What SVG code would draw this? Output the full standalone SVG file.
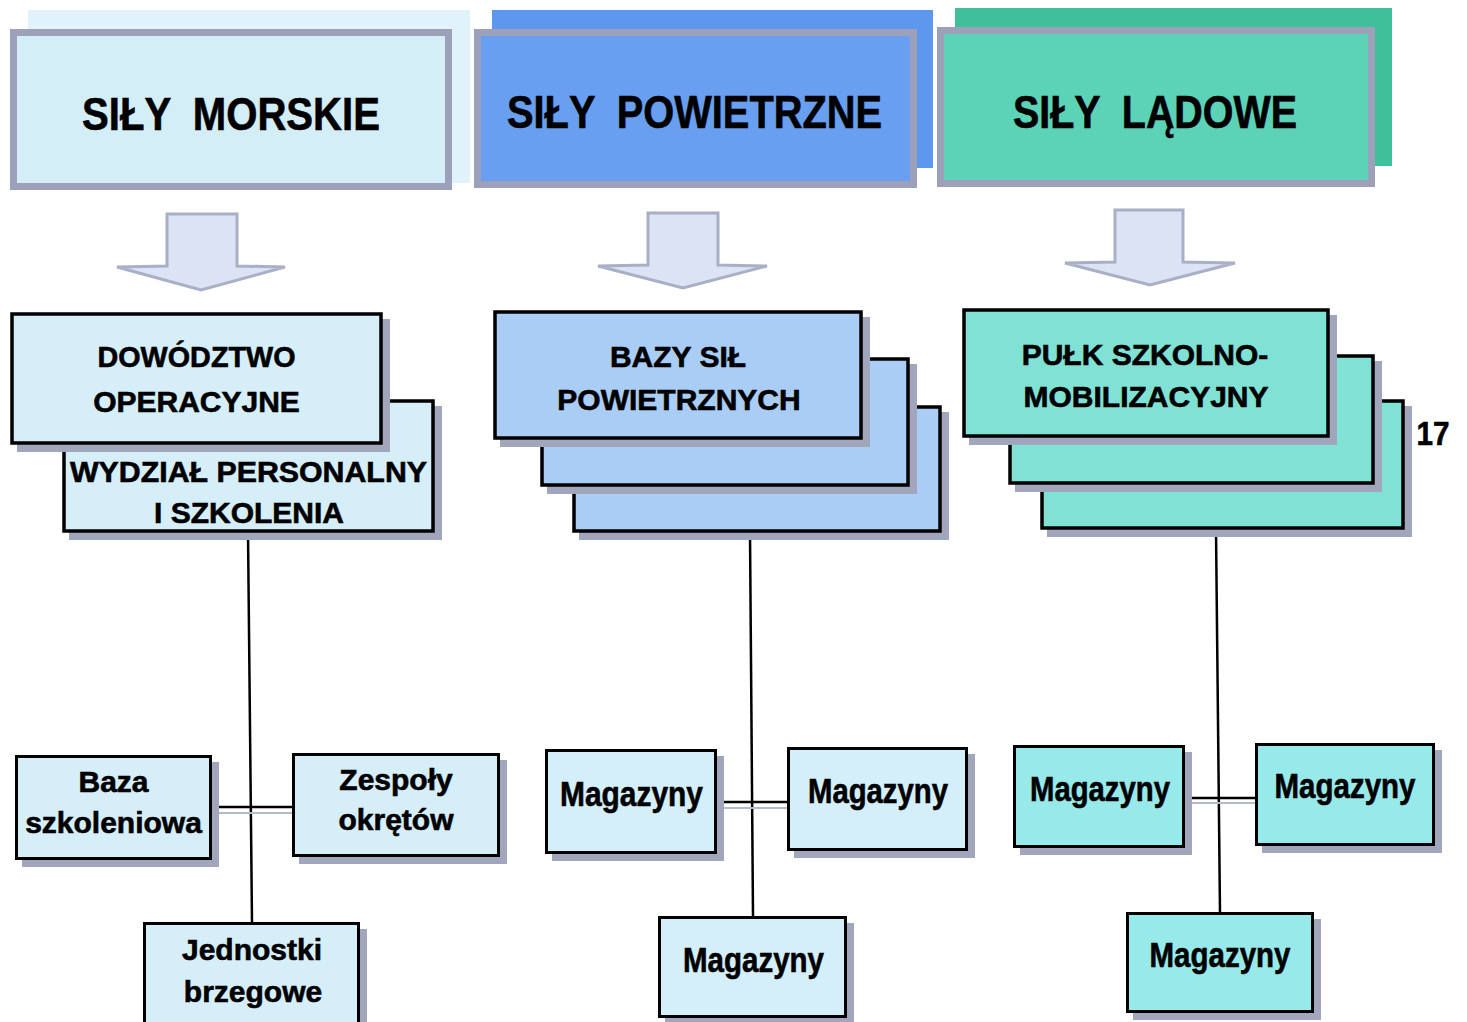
<svg xmlns="http://www.w3.org/2000/svg" width="1467" height="1022" viewBox="0 0 1467 1022">
<style>
text{font-family:"Liberation Sans",Arial,sans-serif;font-weight:bold;fill:#000;text-anchor:middle;stroke:#000;stroke-width:0.6}
.title{font-size:46px;white-space:pre}
.t2{font-size:30px}
.t3{font-size:30px}
.mag{font-size:35px}
.tb{stroke:#9ca1b9;stroke-width:7}
.bx{stroke:#000;stroke-width:3.5}
.bx3{stroke:#000;stroke-width:3}
.sh{fill:#a2a6bd}
.arrow{fill:#dce3f4;stroke:#a9b0c6;stroke-width:3;stroke-linejoin:miter}
.ln{stroke:#000;stroke-width:2.5;fill:none}
.lg{stroke:#b4bccb;stroke-width:2;fill:none}
.m2{fill:#d5eef8}
.p2{fill:#a9cdf4}
.l2{fill:#80e2d4}
.p3{fill:#d4effa}
.l3{fill:#97e9ea}
</style>
<rect width="1467" height="1022" fill="#fff"/>

<g id="top-morskie">
<rect x="28" y="10" width="442" height="173" fill="#e0f3fa"/>
<rect x="13.5" y="32.5" width="435" height="154" fill="#d4eef8" class="tb"/>
<text class="title" x="231" y="130" textLength="298" lengthAdjust="spacingAndGlyphs" xml:space="preserve">SIŁY  MORSKIE</text>
</g>
<g id="top-powietrzne">
<rect x="492" y="10" width="441" height="158" fill="#5e97ee"/>
<rect x="477.5" y="32.5" width="436" height="152" fill="#699ff1" class="tb"/>
<text class="title" x="694.5" y="128" textLength="375" lengthAdjust="spacingAndGlyphs" xml:space="preserve">SIŁY  POWIETRZNE</text>
</g>
<g id="top-ladowe">
<rect x="955" y="8" width="437" height="158" fill="#3fbf9a"/>
<rect x="940.5" y="30.5" width="431" height="153" fill="#5cd3b7" class="tb"/>
<text class="title" x="1155" y="128" textLength="284" lengthAdjust="spacingAndGlyphs" xml:space="preserve">SIŁY  LĄDOWE</text>
</g>

<g id="arrows">
<polygon class="arrow" points="167,214 237,214 237,266 285,267 201,290 117,267 167,266"/>
<polygon class="arrow" points="648,213 718,213 718,265 767,266 683,288 598,266 648,265"/>
<polygon class="arrow" points="1115,210 1183,210 1183,262 1235,263 1150,285 1065,263 1115,262"/>
</g>

<g id="connectors">
<line class="ln" x1="248" y1="533" x2="252" y2="922"/>
<line class="ln" x1="212" y1="807" x2="292" y2="807"/>
<line class="lg" x1="215" y1="813" x2="300" y2="813"/>
<line class="ln" x1="750" y1="533" x2="753" y2="916"/>
<line class="ln" x1="717" y1="802" x2="787" y2="802"/>
<line class="lg" x1="720" y1="808" x2="795" y2="808"/>
<line class="ln" x1="1216" y1="530" x2="1220" y2="912"/>
<line class="ln" x1="1185" y1="798" x2="1255" y2="798"/>
<line class="lg" x1="1188" y1="803" x2="1262" y2="803"/>
</g>

<g id="wydzial">
<rect class="sh" x="69" y="406" width="373" height="134"/>
<rect class="m2 bx" x="64" y="401" width="369" height="130"/>
<text class="t2" x="248.5" y="482" textLength="357" lengthAdjust="spacingAndGlyphs">WYDZIAŁ PERSONALNY</text>
<text class="t2" x="249" y="523">I SZKOLENIA</text>
</g>
<g id="dowodztwo">
<rect class="sh" x="17" y="319" width="373" height="133"/>
<rect class="m2 bx" x="12" y="314" width="369" height="129"/>
<text class="t2" x="196.5" y="367" textLength="198" lengthAdjust="spacingAndGlyphs">DOWÓDZTWO</text>
<text class="t2" x="196.5" y="412">OPERACYJNE</text>
</g>

<g id="bazy-stack">
<rect class="sh" x="579" y="412" width="370" height="128"/>
<rect class="p2 bx" x="574" y="407" width="366" height="124"/>
<rect class="sh" x="547" y="364" width="370" height="130"/>
<rect class="p2 bx" x="542" y="359" width="366" height="126"/>
<rect class="sh" x="500" y="317" width="370" height="130"/>
<rect class="p2 bx" x="495" y="312" width="366" height="126"/>
<text class="t2" x="678" y="367">BAZY SIŁ</text>
<text class="t2" x="679" y="410">POWIETRZNYCH</text>
</g>

<g id="pulk-stack">
<rect class="sh" x="1047" y="406" width="365" height="131"/>
<rect class="l2 bx" x="1042" y="401" width="361" height="127"/>
<rect class="sh" x="1015" y="361" width="367" height="131"/>
<rect class="l2 bx" x="1010" y="356" width="363" height="127"/>
<rect class="sh" x="969" y="315" width="368" height="130"/>
<rect class="l2 bx" x="964" y="310" width="364" height="126"/>
<text class="t2" x="1145" y="365">PUŁK SZKOLNO-</text>
<text class="t2" x="1146" y="407">MOBILIZACYJNY</text>
</g>

<g id="page-number">
<text x="1433" y="445" style="font-size:34px" textLength="33" lengthAdjust="spacingAndGlyphs">17</text>
</g>

<g id="baza">
<rect class="sh" x="22" y="762" width="197" height="105"/>
<rect class="m2 bx3" x="16.5" y="756.5" width="194" height="102"/>
<text class="t3" x="113.5" y="792">Baza</text>
<text class="t3" x="113.5" y="833">szkoleniowa</text>
</g>
<g id="zespoly">
<rect class="sh" x="299" y="760" width="208" height="104"/>
<rect class="m2 bx3" x="293.5" y="754.5" width="205" height="101"/>
<text class="t3" x="396" y="790">Zespoły</text>
<text class="t3" x="396" y="830">okrętów</text>
</g>
<g id="jednostki">
<rect class="sh" x="150" y="929" width="217" height="113"/>
<rect class="m2 bx3" x="144.5" y="923.5" width="214" height="110"/>
<text class="t3" x="252" y="960">Jednostki</text>
<text class="t3" x="253" y="1002">brzegowe</text>
</g>

<g id="mag-p-left">
<rect class="sh" x="552" y="756" width="172" height="105"/>
<rect class="p3 bx3" x="546.5" y="750.5" width="169" height="102"/>
<text class="mag" x="631.5" y="806" textLength="143" lengthAdjust="spacingAndGlyphs">Magazyny</text>
</g>
<g id="mag-p-right">
<rect class="sh" x="794" y="754" width="181" height="104"/>
<rect class="p3 bx3" x="788.5" y="748.5" width="178" height="101"/>
<text class="mag" x="878" y="803" textLength="140" lengthAdjust="spacingAndGlyphs">Magazyny</text>
</g>
<g id="mag-p-bottom">
<rect class="sh" x="665" y="923" width="189" height="102"/>
<rect class="p3 bx3" x="659.5" y="917.5" width="186" height="99"/>
<text class="mag" x="753.5" y="972" textLength="141" lengthAdjust="spacingAndGlyphs">Magazyny</text>
</g>

<g id="mag-l-left">
<rect class="sh" x="1020" y="752" width="172" height="103"/>
<rect class="l3 bx3" x="1014.5" y="746.5" width="169" height="100"/>
<text class="mag" x="1100" y="801" textLength="140" lengthAdjust="spacingAndGlyphs">Magazyny</text>
</g>
<g id="mag-l-right">
<rect class="sh" x="1262" y="750" width="180" height="103"/>
<rect class="l3 bx3" x="1256.5" y="744.5" width="177" height="100"/>
<text class="mag" x="1345" y="798" textLength="141" lengthAdjust="spacingAndGlyphs">Magazyny</text>
</g>
<g id="mag-l-bottom">
<rect class="sh" x="1133" y="919" width="188" height="101"/>
<rect class="l3 bx3" x="1127.5" y="913.5" width="185" height="98"/>
<text class="mag" x="1220" y="967" textLength="141" lengthAdjust="spacingAndGlyphs">Magazyny</text>
</g>
</svg>
